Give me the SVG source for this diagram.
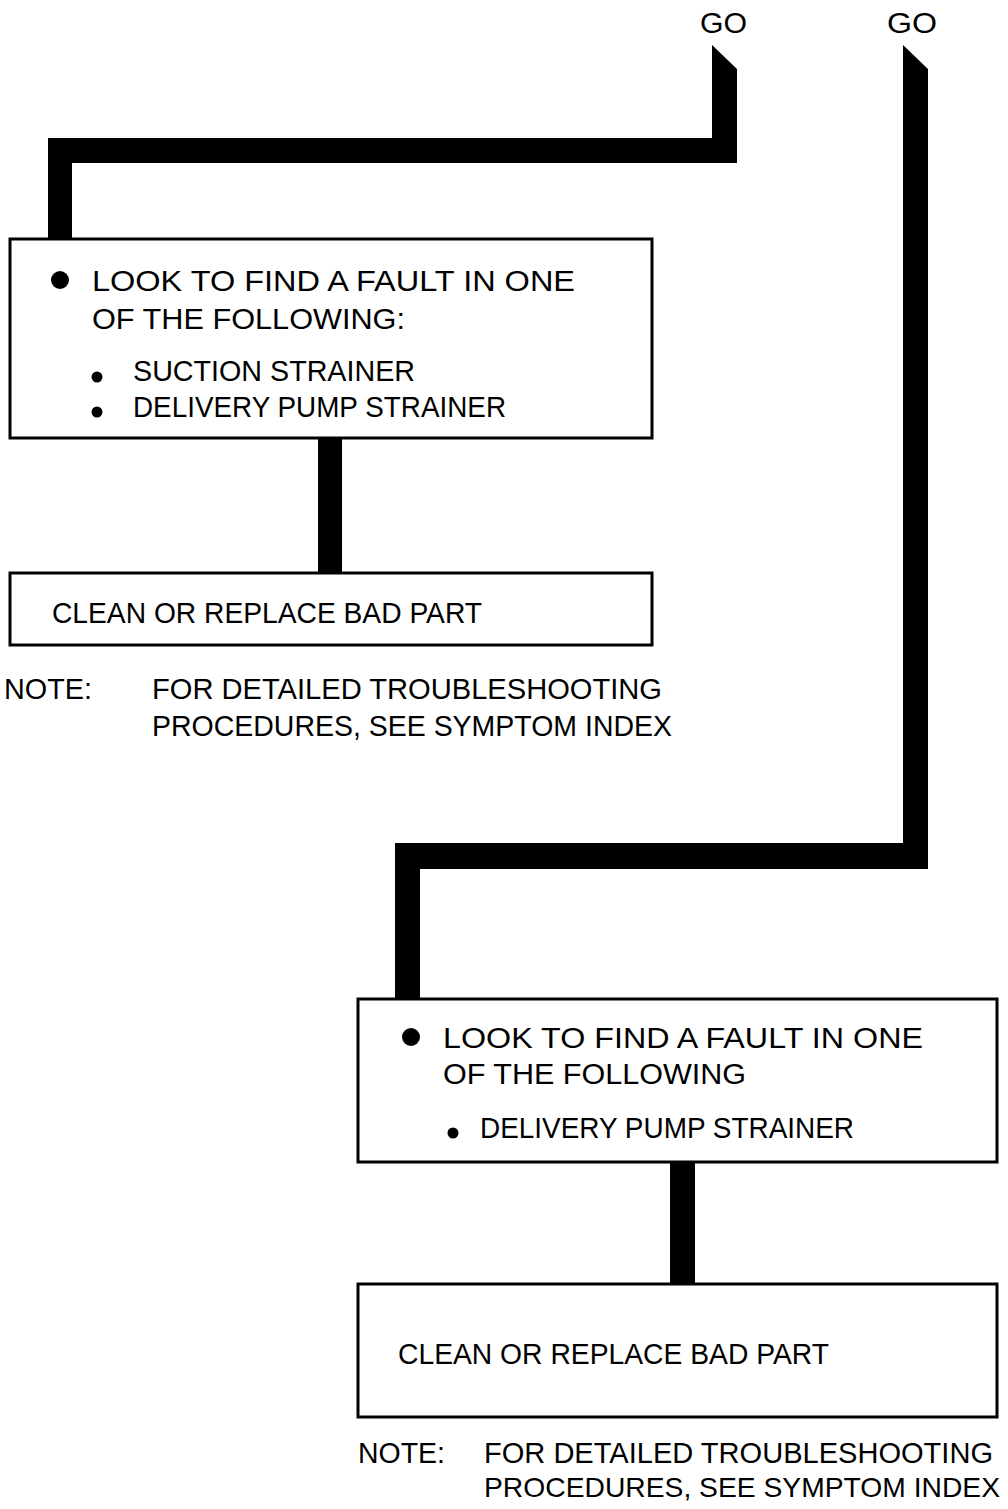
<svg xmlns="http://www.w3.org/2000/svg" width="1008" height="1509" viewBox="0 0 1008 1509">
<style>
.box{fill:#fff;stroke:#000;stroke-width:3}
.bar{fill:#000;stroke:none}
text{font-family:"Liberation Sans",Arial,sans-serif;font-size:29px;fill:#000}
.dot{fill:#000}
</style>
<rect width="1008" height="1509" fill="#fff"/>
<g id="labels">
<text x="700" y="33" textLength="47" lengthAdjust="spacingAndGlyphs">GO</text>
<text x="887" y="33" textLength="50" lengthAdjust="spacingAndGlyphs">GO</text>
</g>
<g id="connectors">
<polygon class="bar" points="712,45 737,69 737,163 72,163 72,240 48,240 48,138 712,138"/>
<rect class="bar" x="318" y="438" width="24" height="136"/>
<polygon class="bar" points="903,45 928,69 928,869 420,869 420,1000 395,1000 395,843 903,843"/>
<rect class="bar" x="670" y="1162" width="25" height="123"/>
</g>
<g id="node1">
<rect class="box" x="10" y="239" width="642" height="199"/>
<circle class="dot" cx="60" cy="280" r="9"/>
<text x="92" y="291" textLength="483" lengthAdjust="spacingAndGlyphs">LOOK TO FIND A FAULT IN ONE</text>
<text x="92" y="329" textLength="313" lengthAdjust="spacingAndGlyphs">OF THE FOLLOWING:</text>
<circle class="dot" cx="97" cy="377" r="5.5"/>
<text x="133" y="381" textLength="282" lengthAdjust="spacingAndGlyphs">SUCTION STRAINER</text>
<circle class="dot" cx="97" cy="412" r="5.5"/>
<text x="133" y="417" textLength="373" lengthAdjust="spacingAndGlyphs">DELIVERY PUMP STRAINER</text>
</g>
<g id="node2">
<rect class="box" x="10" y="573" width="642" height="72"/>
<text x="52" y="623" textLength="430" lengthAdjust="spacingAndGlyphs">CLEAN OR REPLACE BAD PART</text>
</g>
<g id="note1">
<text x="4" y="699" textLength="88" lengthAdjust="spacingAndGlyphs">NOTE:</text>
<text x="152" y="699" textLength="510" lengthAdjust="spacingAndGlyphs">FOR DETAILED TROUBLESHOOTING</text>
<text x="152" y="736" textLength="520" lengthAdjust="spacingAndGlyphs">PROCEDURES, SEE SYMPTOM INDEX</text>
</g>
<g id="node3">
<rect class="box" x="358" y="999" width="639" height="163"/>
<circle class="dot" cx="411" cy="1037" r="9"/>
<text x="443" y="1048" textLength="480" lengthAdjust="spacingAndGlyphs">LOOK TO FIND A FAULT IN ONE</text>
<text x="443" y="1084" textLength="303" lengthAdjust="spacingAndGlyphs">OF THE FOLLOWING</text>
<circle class="dot" cx="453" cy="1133" r="5.5"/>
<text x="480" y="1138" textLength="374" lengthAdjust="spacingAndGlyphs">DELIVERY PUMP STRAINER</text>
</g>
<g id="node4">
<rect class="box" x="358" y="1284" width="639" height="133"/>
<text x="398" y="1364" textLength="431" lengthAdjust="spacingAndGlyphs">CLEAN OR REPLACE BAD PART</text>
</g>
<g id="note2">
<text x="358" y="1463" textLength="87" lengthAdjust="spacingAndGlyphs">NOTE:</text>
<text x="484" y="1463" textLength="509" lengthAdjust="spacingAndGlyphs">FOR DETAILED TROUBLESHOOTING</text>
<text x="484" y="1497" textLength="516" lengthAdjust="spacingAndGlyphs" style="font-size:28px">PROCEDURES, SEE SYMPTOM INDEX</text>
</g>
</svg>
